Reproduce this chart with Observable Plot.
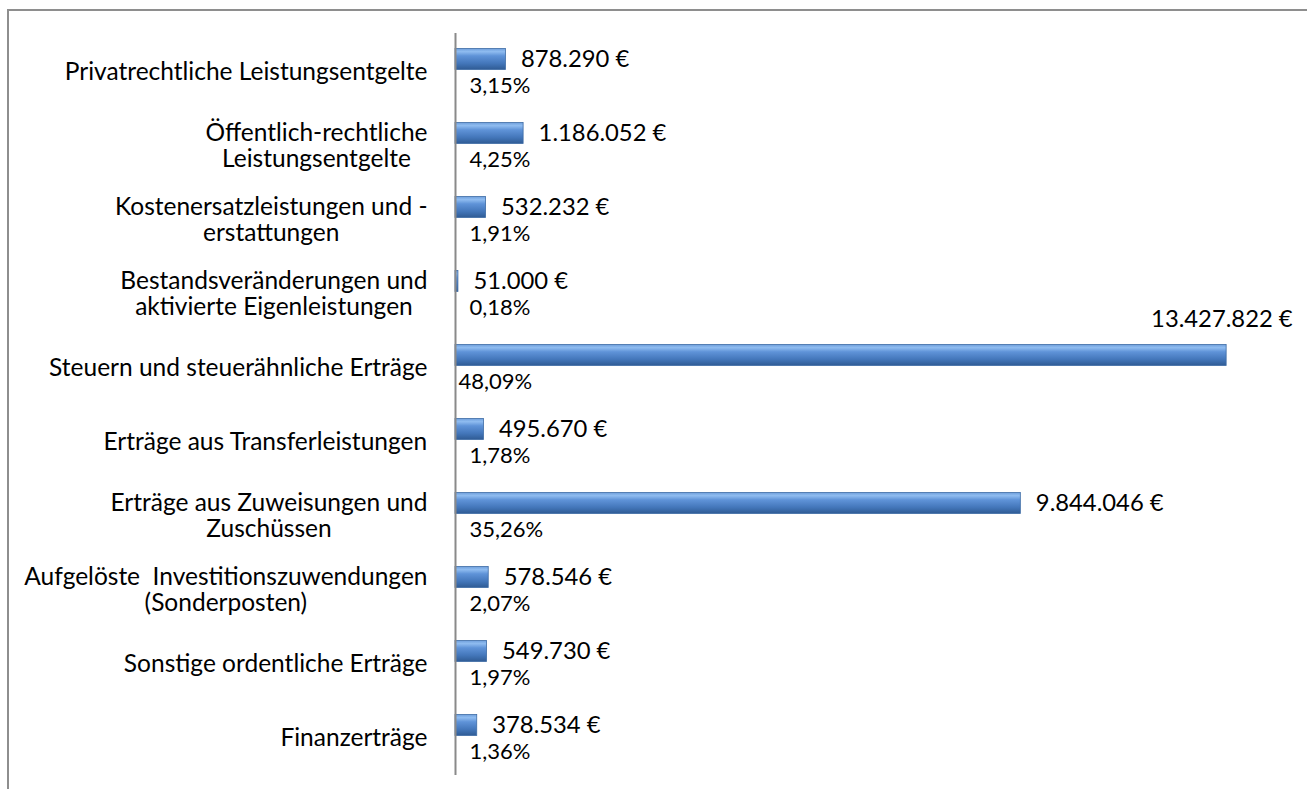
<!DOCTYPE html>
<html>
<head>
<meta charset="utf-8">
<script src="https://cdn.jsdelivr.net/npm/d3@7"></script>
<script src="https://cdn.jsdelivr.net/npm/@observablehq/plot@0.6"></script>
<style>
  html, body { margin: 0; padding: 0; background: #fff; overflow: hidden; }
  #wrap { position: relative; width: 1307px; height: 789px; overflow: hidden; }
  #border { position: absolute; left: 7px; top: 9px; width: 1400px; height: 900px;
            border-top: 2px solid #8e8e8e; border-left: 2px solid #8e8e8e; }
  #chart { position: absolute; left: 0; top: 0; }
</style>
</head>
<body>
<div id="wrap"><div id="border"></div><div id="chart"></div></div>
<script>
const categories = [
  "Privatrechtliche Leistungsentgelte",
  "Öffentlich-rechtliche\nLeistungsentgelte",
  "Kostenersatzleistungen und -\nerstattungen",
  "Bestandsveränderungen und\naktivierte Eigenleistungen",
  "Steuern und steuerähnliche Erträge",
  "Erträge aus Transferleistungen",
  "Erträge aus Zuweisungen und\nZuschüssen",
  "Aufgelöste  Investitionszuwendungen\n(Sonderposten)",
  "Sonstige ordentliche Erträge",
  "Finanzerträge"
];
const values = [878290, 1186052, 532232, 51000, 13427822, 495670, 9844046, 578546, 549730, 378534];
const percents = [3.15, 4.25, 1.91, 0.18, 48.09, 1.78, 35.26, 2.07, 1.97, 1.36];

const rows = categories.map((c, i) => ({cat: c, value: values[i], pct: percents[i]}));
const maxVal = d3.max(values);

const fontFamily = "Lato, 'Open Sans', sans-serif";
const catSize = 24.5, valSize = 23.8, pctSize = 22;

const fmtEuro = v => v.toLocaleString("de-DE") + " €";
const fmtPct = v => v.toFixed(2).replace(".", ",") + "%";

// measure label widths so multi-line labels are centred with their right edge aligned
const ctx = document.createElement("canvas").getContext("2d");
ctx.font = `${catSize}px Lato`;
const labelWidth = c => d3.max(c.split("\n"), s => ctx.measureText(s).width);

const labelMarks = categories.map(c =>
  Plot.text([c], {
    x: 0, y: d => d, text: d => d,
    textAnchor: "middle", dx: -28 - labelWidth(c) / 2,
    lineHeight: 1.07, fontSize: catSize, fill: "#000"
  })
);

const chart = Plot.plot({
  width: 1307,
  height: 789,
  marginLeft: 455,
  marginRight: 48,
  marginTop: 33,
  marginBottom: 14,
  style: {fontFamily, background: "transparent", overflow: "visible"},
  x: {domain: [0, 14000000], axis: null},
  y: {domain: categories, axis: null, padding: 0},
  marks: [
    Plot.barX(rows, {
      y: "cat", x: "value", dy: -12, insetTop: 26.5, insetBottom: 26.5,
      fill: "url(#barGrad)", stroke: "#3d6ba5", strokeWidth: 0.8,
      ariaLabel: "bars"
    }),
    Plot.ruleX([0], {stroke: "#8a8a8a", strokeWidth: 2}),
    ...labelMarks,
    Plot.text(rows.filter(d => d.value !== maxVal), {
      y: "cat", x: "value", text: d => fmtEuro(d.value),
      textAnchor: "start", dx: 15, dy: -12, fontSize: valSize, fill: "#000"
    }),
    Plot.text(rows.filter(d => d.value === maxVal), {
      y: "cat", x: "value", text: d => fmtEuro(d.value),
      textAnchor: "end", dx: 66, dy: -48, fontSize: valSize, fill: "#000"
    }),
    Plot.text(rows.filter(d => d.value !== maxVal), {
      y: "cat", x: 0, text: d => fmtPct(d.pct),
      textAnchor: "start", dx: 14, dy: 14, fontSize: pctSize, fill: "#000"
    }),
    Plot.text(rows.filter(d => d.value === maxVal), {
      y: "cat", x: 0, text: d => fmtPct(d.pct),
      textAnchor: "start", dx: 3, dy: 14, fontSize: pctSize, fill: "#000"
    })
  ]
});

// gradient + shadow definitions for the bevelled bars
const ns = "http://www.w3.org/2000/svg";
const defs = document.createElementNS(ns, "defs");
defs.innerHTML = `
  <linearGradient id="barGrad" x1="0" y1="0" x2="0" y2="1">
    <stop offset="0" stop-color="#6f9fdc"/>
    <stop offset="0.15" stop-color="#8fbcf0"/>
    <stop offset="0.35" stop-color="#5f93d8"/>
    <stop offset="0.7" stop-color="#4477bb"/>
    <stop offset="1" stop-color="#2f5b94"/>
  </linearGradient>
  <filter id="barShadow" x="-5%" y="-30%" width="110%" height="190%">
    <feDropShadow dx="1" dy="3" stdDeviation="2" flood-color="#000" flood-opacity="0.28"/>
  </filter>`;
chart.insertBefore(defs, chart.firstChild);
const barGroup = chart.querySelector('g[aria-label="bars"]');
if (barGroup) barGroup.setAttribute("filter", "url(#barShadow)");

document.getElementById("chart").appendChild(chart);
</script>
</body>
</html>
